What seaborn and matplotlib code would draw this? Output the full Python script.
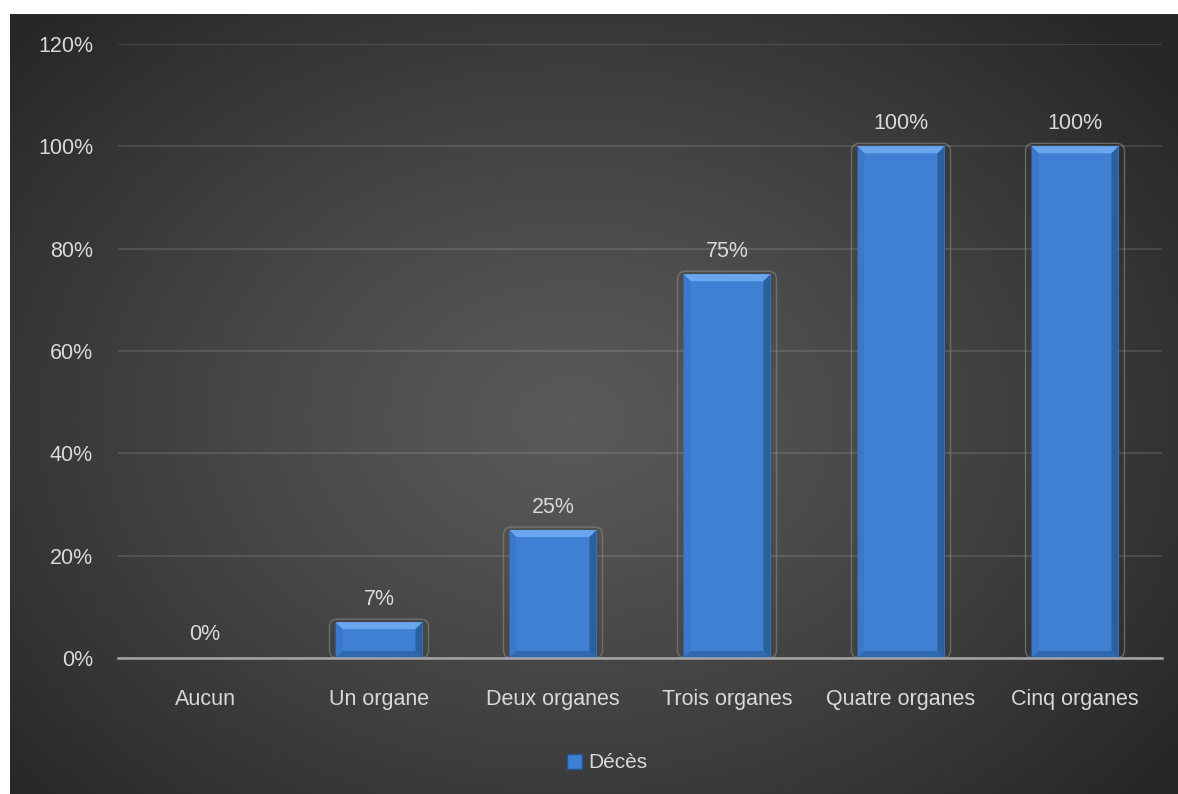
import numpy as np
import pandas as pd
import matplotlib
matplotlib.use("Agg")
import matplotlib.pyplot as plt
from matplotlib.patches import Polygon, FancyBboxPatch, Patch
from matplotlib.ticker import PercentFormatter
import seaborn as sns

# Data: death rate by number of failing organs
categories = ["Aucun", "Un organe", "Deux organes", "Trois organes",
              "Quatre organes", "Cinq organes"]
deces = [0.00, 0.07, 0.25, 0.75, 1.00, 1.00]
y_ticks = [0.0, 0.2, 0.4, 0.6, 0.8, 1.0, 1.2]
series_name = "Décès"

df = pd.DataFrame({"categorie": categories, "deces": deces})

sns.set_theme(style="white")
plt.rcParams["font.family"] = ["Liberation Sans", "DejaVu Sans"]

TEXT = "#d9d9d9"
BLUE = "#3f80d2"
W, H = 1178, 794
fig = plt.figure(figsize=(W / 100, H / 100), dpi=100, facecolor="white")

# Dark radial-gradient backdrop inside a thin white margin
bg = fig.add_axes([10 / W, 0, 1168 / W, 780 / H], zorder=-5)
ny, nx = 400, 600
yy, xx = np.mgrid[0:1:ny * 1j, 0:1:nx * 1j]
r = np.sqrt(((xx - 0.48) / 0.64) ** 2 + ((yy - 0.52) / 0.72) ** 2)
shade = 0.35 - (0.35 - 0.155) * np.clip(r, 0, 1) ** 1.2
img = np.dstack([shade, shade, shade])
bg.imshow(img, aspect="auto", extent=[0, 1, 0, 1], interpolation="bicubic")
bg.set_axis_off()

ax = fig.add_axes([118 / W, (H - 658) / H, 1044 / W, 614 / H])
ax.set_facecolor("none")

sns.barplot(data=df, x="categorie", y="deces", color=BLUE, saturation=1,
            width=0.5, ax=ax, zorder=3, edgecolor="none", linewidth=0)

ax.set_xlim(-0.5, len(categories) - 0.5)
ax.set_ylim(0, 1.2)
ax.set_yticks(y_ticks)
ax.yaxis.set_major_formatter(PercentFormatter(1.0, decimals=0))
ax.set_xlabel("")
ax.set_ylabel("")

# Bevel and soft outline on each bar
px_x = (len(categories)) / 1044.0
px_y = 1.2 / 614.0
dx, dy = 7 * px_x, 7 * px_y
for p in ax.containers[0].patches:
    x0, w, h = p.get_x(), p.get_width(), p.get_height()
    if h <= 0:
        continue
    x1 = x0 + w
    b = min(dy, h / 3)
    faces = [
        ([(x0, h), (x1, h), (x1 - dx, h - b), (x0 + dx, h - b)], "#6aa6ee"),
        ([(x0, 0), (x0, h), (x0 + dx, h - b), (x0 + dx, b)], "#3a79c9"),
        ([(x1, 0), (x1, h), (x1 - dx, h - b), (x1 - dx, b)], "#2b609f"),
        ([(x0, 0), (x1, 0), (x1 - dx, b), (x0 + dx, b)], "#3068b0"),
    ]
    for pts, col in faces:
        ax.add_patch(Polygon(pts, closed=True, facecolor=col, edgecolor="none",
                             zorder=4))
    pad = 6 * px_x
    outline = FancyBboxPatch((x0 - pad, 0), w + 2 * pad, h + 3 * px_y,
                             boxstyle=f"round,pad=0,rounding_size={8 * px_x}",
                             mutation_aspect=px_y / px_x,
                             facecolor="none", edgecolor="#8a8a8a",
                             linewidth=1.0, alpha=0.6, zorder=2)
    ax.add_patch(outline)

ax.bar_label(ax.containers[0], labels=[f"{v:.0%}" for v in deces],
             padding=9, color=TEXT, fontsize=15.5, zorder=6)

# Axes styling
ax.yaxis.grid(True, color="white", alpha=0.13, linewidth=1.3, zorder=0)
ax.xaxis.grid(False)
for side in ["top", "right", "left"]:
    ax.spines[side].set_visible(False)
ax.spines["bottom"].set_color("#a6a6a6")
ax.spines["bottom"].set_linewidth(1.8)
ax.spines["bottom"].set_zorder(7)
ax.tick_params(axis="y", length=0, pad=18, labelcolor=TEXT, labelsize=15.5)
ax.tick_params(axis="x", length=0, pad=22, labelcolor=TEXT, labelsize=15.5)

handle = Patch(facecolor=BLUE, edgecolor="#23548f", linewidth=1.0)
fig.legend([handle], [series_name], loc="center",
           bbox_to_anchor=(607 / W, (H - 763) / H), frameon=False,
           handlelength=0.75, handleheight=0.75, handletextpad=0.3,
           labelcolor=TEXT, fontsize=15)

fig.savefig("out.png", dpi=100, facecolor="white")
